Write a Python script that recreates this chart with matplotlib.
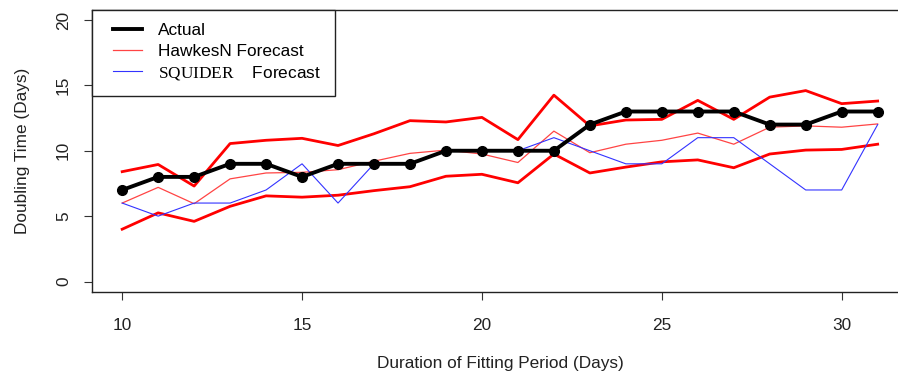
import numpy as np
import matplotlib
matplotlib.use("Agg")
import matplotlib.pyplot as plt

plt.rcParams["font.family"] = ["Liberation Sans", "DejaVu Sans"]
plt.rcParams["mathtext.fontset"] = "custom"
plt.rcParams["mathtext.rm"] = "Liberation Serif"

days = list(range(10, 32))
actual = [7, 8, 8, 9, 9, 8, 9, 9, 9, 10, 10, 10, 10, 12, 13, 13, 13, 13, 12, 12, 13, 13]
hawkes_mid = [6.0, 7.2, 5.95, 7.85, 8.3, 8.35, 8.55, 9.2, 9.8, 10.05, 9.75, 9.1,
              11.5, 9.85, 10.5, 10.8, 11.35, 10.5, 11.8, 11.9, 11.8, 12.05]
hawkes_hi = [8.4, 8.95, 7.3, 10.55, 10.8, 10.95, 10.4, 11.3, 12.3, 12.2, 12.55, 10.85,
             14.25, 11.9, 12.35, 12.4, 13.85, 12.4, 14.1, 14.6, 13.6, 13.8]
hawkes_lo = [4.0, 5.25, 4.6, 5.75, 6.55, 6.45, 6.6, 6.95, 7.25, 8.05, 8.2, 7.55,
             9.75, 8.3, 8.75, 9.15, 9.3, 8.7, 9.75, 10.05, 10.1, 10.5]
squider = [6, 5, 6, 6, 7, 9, 6, 9, 9, 10, 10, 10, 11, 10, 9, 9, 11, 11, 9, 7, 7, 12]

fig = plt.figure(figsize=(8.98, 3.77), dpi=100)
ax = fig.add_axes([0.1024, 0.2255, 0.9086, 0.7493])

ax.plot(days, hawkes_hi, color="red", lw=2.0)
ax.plot(days, hawkes_lo, color="red", lw=2.0)
ax.plot(days, hawkes_mid, color="#ff4444", lw=0.9, label="HawkesN Forecast")
ax.plot(days, squider, color="#3333ff", lw=0.8, label=r"$\mathrm{SQUIDER}$    Forecast")
ax.plot(days, actual, color="black", lw=2.8, marker="o", ms=7, label="Actual")

ax.set_xlim(9.16, 31.84)
ax.set_ylim(-0.8, 20.8)
ax.set_xticks([10, 15, 20, 25, 30])
ax.set_yticks([0, 5, 10, 15, 20])
ax.tick_params(axis="both", labelsize=12.4, length=6, width=0.8, color="#333333",
               labelcolor="#222222")
ax.tick_params(axis="x", pad=13)
ax.tick_params(axis="y", pad=9)
for lbl in ax.get_yticklabels():
    lbl.set_rotation(90)
    lbl.set_va("center")
for s in ax.spines.values():
    s.set_linewidth(1.0)
    s.set_color("#222222")

ax.set_xlabel("Duration of Fitting Period (Days)", fontsize=12.4, labelpad=16, color="#222222")
ax.set_ylabel("Doubling Time (Days)", fontsize=12.4, labelpad=19, color="#222222")

handles, labels = ax.get_legend_handles_labels()
order = [2, 0, 1]
leg = ax.legend([handles[i] for i in order], [labels[i] for i in order],
                loc="upper left", bbox_to_anchor=(0, 1), borderaxespad=0,
                fontsize=12.4, fancybox=False, edgecolor="#222222", framealpha=1,
                handlelength=2.1, handletextpad=0.93, labelspacing=0.3,
                borderpad=0.8)
leg.get_frame().set_linewidth(1.0)
# legend keys start a little in from the frame
for line in leg.get_lines():
    line.set_marker("")
    xd = np.asarray(line.get_xdata(), dtype=float)
    line.set_xdata([xd.min() + 5, xd.max()])
    line.set_ydata([line.get_ydata()[0]] * 2)

fig.savefig("out.png", dpi=100)
